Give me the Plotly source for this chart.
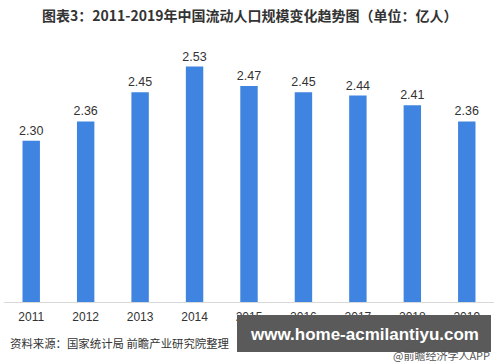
import plotly.graph_objects as go

years = ["2011", "2012", "2013", "2014", "2015", "2016", "2017", "2018", "2019"]
values = [2.30, 2.36, 2.45, 2.53, 2.47, 2.45, 2.44, 2.41, 2.36]

title_text = "图表3：2011-2019年中国流动人口规模变化趋势图（单位：亿人）"
source_text = "资料来源：国家统计局 前瞻产业研究院整理"
app_text = "@前瞻经济学人APP"
overlay_text = "www.home-acmilantiyu.com"

cjk = "Noto Sans CJK SC, Noto Sans, sans-serif"
latin = "Liberation Sans, Arial, sans-serif"

W, H = 500, 362
L, R, T, B = 4, 6, 44, 60

def px(xp):
    return (xp - L) / (W - L - R)

def py(yp):
    return (H - B - yp) / (H - T - B)

fig = go.Figure(go.Bar(
    x=years, y=values,
    marker=dict(color="#3F84E0", line=dict(width=0)),
    width=0.32,
    text=[f"{v:.2f}" for v in values],
    textposition="outside",
    constraintext="none",
    textfont=dict(size=12.5, color="#333333", family=latin),
    cliponaxis=False,
    hoverinfo="skip",
))

fig.update_layout(
    width=W, height=H,
    margin=dict(l=L, r=R, t=T, b=B),
    paper_bgcolor="white", plot_bgcolor="white",
    showlegend=False,
    xaxis=dict(
        showline=True, linecolor="#D9D9D9", linewidth=1,
        showgrid=False, ticks="", ticklabelstandoff=4,
        tickfont=dict(size=12, color="#333333", family=latin),
    ),
    yaxis=dict(range=[1.8, 2.6], visible=False, showgrid=False),
)

fig.add_annotation(text=f"<b>{title_text}</b>", x=px(250), y=py(15), xref="paper", yref="paper",
                   xanchor="center", yanchor="middle", showarrow=False,
                   font=dict(size=14, color="#333333", family=cjk))
fig.add_annotation(text=source_text, x=px(8), y=py(343), xref="paper", yref="paper",
                   xanchor="left", yanchor="middle", showarrow=False,
                   font=dict(size=11.4, color="#333333", family=cjk))
fig.add_annotation(text=app_text, x=px(492), y=py(355), xref="paper", yref="paper",
                   xanchor="right", yanchor="middle", showarrow=False,
                   font=dict(size=11, color="#555555", family=cjk))
fig.add_shape(type="rect", xref="paper", yref="paper",
              x0=px(237), x1=px(491), y0=py(315), y1=py(352),
              fillcolor="#5A5A5A", line=dict(width=0), layer="above")
fig.add_annotation(text=f"<b>{overlay_text}</b>", x=px(364), y=py(334), xref="paper", yref="paper",
                   xanchor="center", yanchor="middle", showarrow=False,
                   font=dict(size=17, color="white", family=latin))

fig.write_html("out.html", config={"displayModeBar": False},
               post_script="document.body.style.margin='0';")
